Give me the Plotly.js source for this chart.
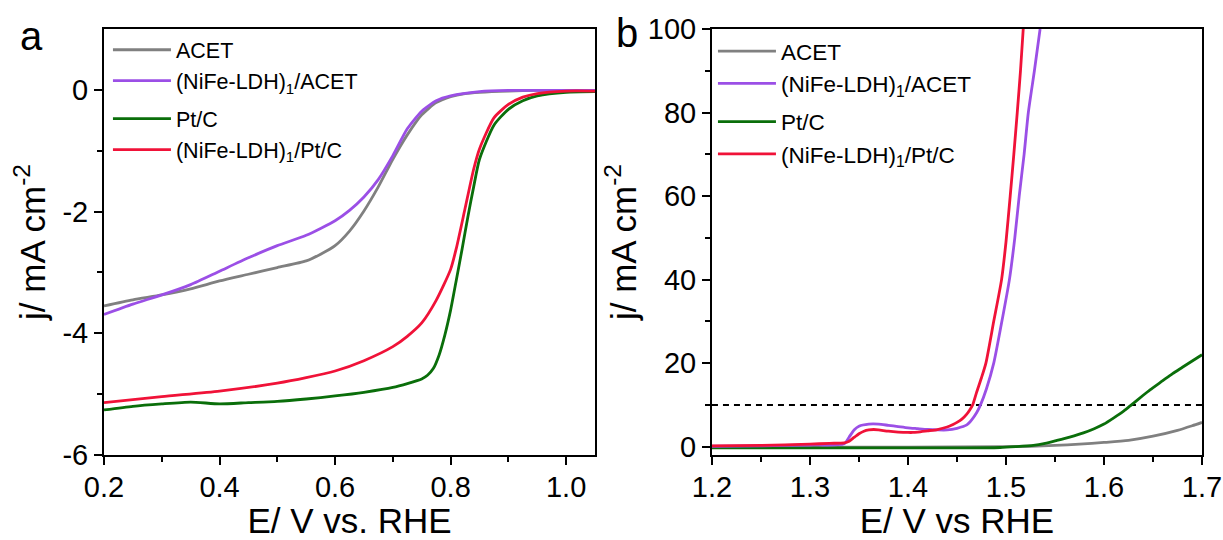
<!DOCTYPE html>
<html>
<head>
<meta charset="utf-8">
<script src="https://cdn.plot.ly/plotly-3.0.1.min.js"></script>
<style>html,body{margin:0;padding:0;background:#fff;}#chart{width:1223px;height:540px;}</style>
</head>
<body>
<div id="chart"></div>
<script>
// ---------- Series names ----------
const seriesNames = ['ACET', '(NiFe-LDH)<sub>1</sub>/ACET', 'Pt/C', '(NiFe-LDH)<sub>1</sub>/Pt/C'];
const seriesColors = ['#808080', '#9B4FE6', '#0A6E0A', '#F01238'];

// ---------- Panel a (ORR) ----------
const orrAcetX = [0.2,0.25,0.3,0.35,0.4,0.45,0.5,0.55,0.575,0.6,0.625,0.65,0.675,0.7,0.725,0.75,0.775,0.8,0.825,0.85,0.9,0.95,1.0,1.05];
const orrAcetY = [-3.55,-3.45,-3.37,-3.27,-3.14,-3.03,-2.92,-2.81,-2.7,-2.56,-2.32,-1.99,-1.59,-1.14,-0.74,-0.41,-0.21,-0.11,-0.06,-0.04,-0.02,-0.01,-0.01,-0.01];

const orrNiAcetX = [0.2,0.25,0.3,0.35,0.4,0.45,0.5,0.55,0.6,0.625,0.65,0.675,0.7,0.725,0.75,0.775,0.8,0.85,0.9,0.95,1.0,1.05];
const orrNiAcetY = [-3.69,-3.52,-3.37,-3.2,-2.98,-2.76,-2.56,-2.39,-2.15,-1.98,-1.76,-1.47,-1.08,-0.64,-0.35,-0.18,-0.1,-0.03,-0.01,-0.01,-0.01,-0.01];

const orrPtX = [0.2,0.25,0.3,0.35,0.4,0.45,0.5,0.55,0.6,0.65,0.7,0.75,0.76,0.77,0.78,0.79,0.8,0.81,0.82,0.83,0.84,0.85,0.875,0.9,0.925,0.95,1.0,1.05];
const orrPtY = [-5.26,-5.2,-5.16,-5.13,-5.16,-5.14,-5.12,-5.08,-5.03,-4.97,-4.89,-4.75,-4.69,-4.58,-4.36,-4.03,-3.62,-3.12,-2.61,-2.08,-1.59,-1.14,-0.58,-0.32,-0.18,-0.1,-0.04,-0.03];

const orrNiPtX = [0.2,0.3,0.4,0.5,0.55,0.6,0.65,0.7,0.725,0.75,0.775,0.8,0.81,0.825,0.84,0.85,0.875,0.9,0.925,0.95,1.0,1.05];
const orrNiPtY = [-5.14,-5.04,-4.95,-4.82,-4.73,-4.62,-4.45,-4.22,-4.05,-3.83,-3.46,-2.95,-2.6,-1.95,-1.3,-0.97,-0.46,-0.24,-0.12,-0.06,-0.02,-0.02];

// ---------- Panel b (OER) ----------
const oerAcetX = [1.2,1.3,1.4,1.5,1.525,1.55,1.575,1.6,1.625,1.65,1.675,1.69,1.7];
const oerAcetY = [-0.1,-0.1,-0.1,0,0.1,0.3,0.6,1.0,1.5,2.5,3.9,5.0,5.8];

const oerNiAcetX = [1.2,1.25,1.3,1.335,1.34,1.345,1.35,1.36,1.37,1.38,1.39,1.4,1.41,1.42,1.43,1.44,1.45,1.46,1.465,1.47,1.474,1.48,1.4875,1.495,1.5035,1.509,1.5135,1.5185,1.5228,1.529,1.5348];
const oerNiAcetY = [0.1,0.2,0.4,0.7,2.3,4.0,4.9,5.4,5.4,5.1,4.8,4.5,4.3,4.1,4.0,4.0,4.4,5.2,6.4,8.1,10,13.8,20,29,40,50,60,70,80,90,100];

const oerPtX = [1.2,1.3,1.4,1.45,1.494,1.51,1.528,1.54,1.552,1.565,1.579,1.59,1.6,1.61,1.62,1.628,1.64,1.647,1.66,1.67,1.68,1.7];
const oerPtY = [-0.3,-0.3,-0.3,-0.3,-0.2,0.0,0.3,0.8,1.5,2.3,3.3,4.3,5.4,6.9,8.5,10,12.3,13.6,15.8,17.5,19.0,22];

const oerNiPtX = [1.2,1.25,1.3,1.32,1.335,1.34,1.345,1.35,1.355,1.36,1.365,1.37,1.38,1.39,1.4,1.405,1.41,1.42,1.43,1.44,1.446,1.45,1.455,1.46,1.463,1.466,1.47,1.475,1.4795,1.4875,1.4955,1.5,1.5043,1.508,1.5115,1.5148,1.5176];
const oerNiPtY = [0.2,0.3,0.6,0.8,0.9,1.3,2.2,3.1,3.7,4.0,4.1,4.0,3.7,3.5,3.4,3.4,3.5,3.8,4.1,4.7,5.3,5.8,6.6,7.8,8.8,10,13,16.5,20,30,40,49,60,70,80,90,100];

const refLineX = [1.2, 1.7];
const refLineY = [10, 10];

// ---------- Ticks ----------
const orrXTicks = [0.2,0.4,0.6,0.8,1.0];
const orrXTickText = ['0.2','0.4','0.6','0.8','1.0'];
const orrXMinor = [0.3,0.5,0.7,0.9];
const orrYTicks = [0,-2,-4,-6];
const orrYTickText = ['0','-2','-4','-6'];
const orrYMinor = [-1,-3,-5];
const oerXTicks = [1.2,1.3,1.4,1.5,1.6,1.7];
const oerXTickText = ['1.2','1.3','1.4','1.5','1.6','1.7'];
const oerXMinor = [1.25,1.35,1.45,1.55,1.65];
const oerYTicks = [0,20,40,60,80,100];
const oerYTickText = ['0','20','40','60','80','100'];
const oerYMinor = [10,30,50,70,90];

const FONT = '"Liberation Sans", Arial, Helvetica, sans-serif';
const groups = ['g1','g1','g2','g2'];

function mk(x, y, i, xa, ya, leg) {
  return {
    x: x, y: y, type: 'scatter', mode: 'lines', name: seriesNames[i],
    line: {color: seriesColors[i], width: 2.8, shape: 'spline', smoothing: 0.6},
    xaxis: xa, yaxis: ya, legend: leg, legendgroup: leg + groups[i]
  };
}

const traces = [
  mk(orrAcetX, orrAcetY, 0, 'x', 'y', 'legend'),
  mk(orrNiAcetX, orrNiAcetY, 1, 'x', 'y', 'legend'),
  mk(orrPtX, orrPtY, 2, 'x', 'y', 'legend'),
  mk(orrNiPtX, orrNiPtY, 3, 'x', 'y', 'legend'),
  {x: refLineX, y: refLineY, type: 'scatter', mode: 'lines', showlegend: false,
   line: {color: '#000', width: 2, dash: '6px,5px'}, xaxis: 'x2', yaxis: 'y2', hoverinfo: 'skip'},
  mk(oerAcetX, oerAcetY, 0, 'x2', 'y2', 'legend2'),
  mk(oerPtX, oerPtY, 2, 'x2', 'y2', 'legend2'),
  mk(oerNiAcetX, oerNiAcetY, 1, 'x2', 'y2', 'legend2'),
  mk(oerNiPtX, oerNiPtY, 3, 'x2', 'y2', 'legend2')
];
traces[5].legendrank = 1; traces[7].legendrank = 2; traces[6].legendrank = 3; traces[8].legendrank = 4;

const tickFont = {family: FONT, size: 29, color: '#000'};
const titleFont = {family: FONT, size: 35, color: '#000'};
function axis(extra) {
  return Object.assign({
    showline: true, linecolor: '#000', linewidth: 2, mirror: true,
    ticks: 'outside', ticklen: 8, tickwidth: 2, tickcolor: '#000',
    showgrid: false, zeroline: false, tickfont: tickFont, automargin: false,
    tickmode: 'array'
  }, extra);
}
function minor(vals) {
  return {tickmode: 'array', tickvals: vals, ticks: 'outside', ticklen: 5, tickwidth: 2, tickcolor: '#000', showgrid: false};
}

function legendCfg(x, y, fs, gap) {
  return {
    x: x, y: y, bgcolor: 'rgba(0,0,0,0)', borderwidth: 0, font: {family: FONT, size: fs, color: '#000'},
    itemwidth: 58, tracegroupgap: gap, xanchor: 'left', yanchor: 'top', traceorder: 'grouped'
  };
}

const layout = {
  width: 1223, height: 540,
  margin: {l: 104, r: 21, t: 29, b: 85, pad: 0},
  paper_bgcolor: '#fff', plot_bgcolor: '#fff',
  showlegend: true,
  xaxis: axis({domain: [0, 0.4472], range: [0.2, 1.05], tickvals: orrXTicks, ticktext: orrXTickText,
    minor: minor(orrXMinor), anchor: 'y', ticklabelstandoff: -3,
    title: {text: 'E/ V vs. RHE', font: titleFont, standoff: 12}}),
  yaxis: axis({domain: [0, 1], range: [-6, 1], tickvals: orrYTicks, ticktext: orrYTickText,
    minor: minor(orrYMinor), anchor: 'x',
    title: {text: 'j/ mA cm<sup>-2</sup>', font: titleFont, standoff: 6}}),
  xaxis2: axis({domain: [0.5537, 1], range: [1.2, 1.7], tickvals: oerXTicks, ticktext: oerXTickText,
    minor: minor(oerXMinor), anchor: 'y2', ticklabelstandoff: -3,
    title: {text: 'E/ V vs RHE', font: titleFont, standoff: 12}}),
  yaxis2: axis({domain: [0, 1], range: [-2, 100], tickvals: oerYTicks, ticktext: oerYTickText,
    minor: minor(oerYMinor), anchor: 'x2',
    title: {text: 'j/ mA cm<sup>-2</sup>', font: titleFont, standoff: 1}}),
  legend: legendCfg(0.0036, 0.9994, 21.5, 7),
  legend2: legendCfg(0.5546, 0.9977, 22.5, 6),
  annotations: [
    {text: 'a', xref: 'paper', yref: 'paper', x: -0.0656, y: 1.039, xanchor: 'center', yanchor: 'top',
     showarrow: false, font: {family: FONT, size: 40, color: '#000'}},
    {text: 'b', xref: 'paper', yref: 'paper', x: 0.4763, y: 1.048, xanchor: 'center', yanchor: 'top',
     showarrow: false, font: {family: FONT, size: 40, color: '#000'}}
  ]
};

Plotly.newPlot('chart', traces, layout, {staticPlot: true, displayModeBar: false});
</script>
</body>
</html>
